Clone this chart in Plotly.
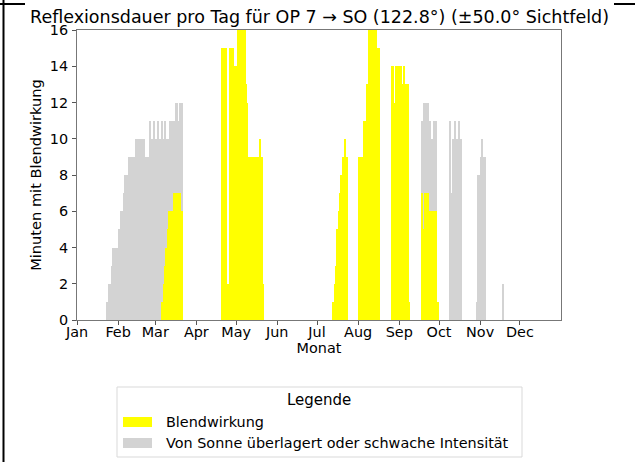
import plotly.graph_objects as go
import pandas as pd

# ---------------- data (day of year index, 0 = 1 Jan) ----------------
gray_days = [22, 23, 24, 25, 26, 27, 28, 29, 30, 31, 32, 33, 34, 35, 36, 37, 38, 39, 40, 41,
             42, 43, 44, 45, 46, 47, 48, 49, 50, 51, 52, 53, 54, 55, 56, 57, 58, 59, 60, 61,
             62, 63, 64, 65, 66, 67, 68, 69, 70, 71, 72, 73, 74, 75, 76, 77, 78, 79,
             260, 261, 262, 263, 264, 265, 266, 267, 268, 269, 270,
             281, 282, 283, 284, 285, 286, 287, 288, 289,
             301, 302, 303, 304, 305, 306, 307,
             321]
gray_vals = [1, 1, 2, 2, 3, 4, 4, 4, 4, 5, 5, 6, 6, 7, 8, 8, 8, 9, 9, 9,
             9, 9, 10, 10, 10, 10, 10, 10, 10, 9, 9, 9, 9, 11, 10, 10, 11, 10, 10, 11,
             10, 10, 11, 10, 11, 10, 10, 10, 11, 11, 11, 11, 12, 12, 11, 12, 12, 12,
             11, 12, 12, 12, 12, 11, 11, 10, 10, 11, 11,
             11, 7, 10, 10, 11, 10, 10, 11, 10,
             1, 8, 8, 9, 10, 9, 9,
             2]

yellow_days = [64, 65, 66, 67, 68, 69, 70, 71, 72, 73, 74, 75, 76, 77, 78, 79,
               109, 110, 111, 112, 113, 114, 115, 116, 117, 118, 119, 120, 121, 122, 123, 124,
               125, 126, 127, 128, 129, 130, 131, 132, 133, 134, 135, 136, 137, 138, 139, 140,
               193, 194, 195, 196, 197, 198, 199, 200, 201, 202, 203,
               212, 214, 215, 216, 217, 218, 219, 220, 221, 222, 223, 224, 225, 226, 227,
               237, 238, 239, 240, 241, 242, 243, 244, 245, 246, 247, 248, 249, 250,
               260, 261, 262, 263, 264, 265, 266, 267, 268, 269, 270, 272]
yellow_vals = [1, 2, 3, 4, 5, 6, 6, 6, 6, 7, 7, 7, 7, 7, 6, 6,
               15, 15, 15, 15, 2, 2, 15, 15, 15, 14, 14, 14, 16, 16, 16, 16,
               16, 16, 13, 12, 9, 9, 9, 9, 9, 9, 9, 9, 9, 10, 9, 2,
               1, 2, 3, 5, 6, 7, 8, 9, 9, 10, 9,
               9, 9, 9, 11, 11, 13, 13, 16, 16, 14, 16, 16, 16, 15, 15,
               14, 14, 12, 14, 14, 14, 14, 14, 13, 14, 13, 13, 13, 1,
               7, 5, 7, 7, 7, 6, 6, 6, 6, 6, 6, 1]

month_ticks = ["Jan", "Feb", "Mar", "Apr", "May", "Jun", "Jul", "Aug", "Sep", "Oct", "Nov", "Dec"]
y_ticks = [0, 2, 4, 6, 8, 10, 12, 14, 16]

legend_labels = ["Blendwirkung", "Von Sonne überlagert oder schwache Intensität"]
title_text = "Reflexionsdauer pro Tag für OP 7 → SO (122.8°) (±50.0° Sichtfeld)"

YELLOW = "#ffff00"
GRAY = "#d3d3d3"
YEAR_START = pd.Timestamp("2023-01-01")


def to_dates(days):
    return [YEAR_START + pd.Timedelta(days=d, hours=12) for d in days]


DAY_MS = 86400000

W, H = 635, 462
L, R, T, B = 77, 561, 30, 320  # plot area in pixels


def px(xp):
    return (xp - L) / (R - L)


def py(yp):
    return (B - yp) / (B - T)


FONT = "DejaVu Sans"

fig = go.Figure()
fig.add_trace(go.Bar(x=to_dates(gray_days), y=gray_vals, width=DAY_MS,
                     marker=dict(color=GRAY, line=dict(width=0)),
                     name=legend_labels[1], showlegend=False, hoverinfo="skip"))
fig.add_trace(go.Bar(x=to_dates(yellow_days), y=yellow_vals, width=DAY_MS,
                     marker=dict(color=YELLOW, line=dict(width=0)),
                     name=legend_labels[0], showlegend=False, hoverinfo="skip"))

tickvals = [YEAR_START + pd.DateOffset(months=i) for i in range(12)]

fig.update_layout(
    width=W, height=H,
    margin=dict(l=L, r=W - R, t=T, b=H - B, autoexpand=False),
    paper_bgcolor="white", plot_bgcolor="white",
    barmode="overlay", bargap=0,
    font=dict(family=FONT, size=14, color="#000000"),
    showlegend=False,
    title=dict(text=title_text, x=px(319.5), xanchor="center", xref="paper",
               y=1 - 17 / H, yanchor="middle", yref="container",
               font=dict(family=FONT, size=17.5, color="#000000")),
    xaxis=dict(
        type="date", automargin=False,
        range=[YEAR_START, YEAR_START + pd.Timedelta(days=365)],
        tickmode="array", tickvals=tickvals, ticktext=month_ticks,
        ticks="outside", ticklen=4, tickcolor="#555555", tickwidth=1,
        ticklabelstandoff=-5,
        showline=True, linecolor="#777777", linewidth=1, mirror=True,
        showgrid=False, zeroline=False,
        tickfont=dict(family=FONT, size=14.4),
        title=dict(text="Monat", font=dict(family=FONT, size=14.4), standoff=0),
    ),
    yaxis=dict(
        automargin=False,
        range=[0, 16], tickvals=y_ticks,
        ticks="outside", ticklen=4, tickcolor="#555555", tickwidth=1,
        ticklabelstandoff=1,
        showline=True, linecolor="#777777", linewidth=1, mirror=True,
        showgrid=False, zeroline=False,
        tickfont=dict(family=FONT, size=14.4),
        title=dict(text="Minuten mit Blendwirkung", font=dict(family=FONT, size=14.6), standoff=4),
    ),
)

shapes = []
# page borders (from the surrounding document)
shapes.append(dict(type="line", xref="paper", yref="paper", x0=px(3.5), x1=px(3.5), y0=py(0), y1=py(H),
                   line=dict(color="black", width=2)))
shapes.append(dict(type="line", xref="paper", yref="paper", x0=px(0), x1=px(25), y0=py(4), y1=py(4),
                   line=dict(color="black", width=2)))
shapes.append(dict(type="line", xref="paper", yref="paper", x0=px(614), x1=px(W), y0=py(4), y1=py(4),
                   line=dict(color="black", width=2)))

# legend box
bx0, bx1, by0, by1 = 117, 522, 387, 457
shapes.append(dict(type="rect", xref="paper", yref="paper", x0=px(bx0), x1=px(bx1), y0=py(by0), y1=py(by1),
                   line=dict(color="#d9d9d9", width=1), fillcolor="white"))
# legend patches
shapes.append(dict(type="rect", xref="paper", yref="paper", x0=px(123), x1=px(152), y0=py(417), y1=py(427),
                   line=dict(width=0), fillcolor=YELLOW))
shapes.append(dict(type="rect", xref="paper", yref="paper", x0=px(123), x1=px(152), y0=py(438), y1=py(448),
                   line=dict(width=0), fillcolor=GRAY))

annotations = [
    dict(text="Legende", xref="paper", yref="paper", x=px(319), y=py(400), xanchor="center", yanchor="middle",
         showarrow=False, font=dict(family=FONT, size=15)),
    dict(text=legend_labels[0], xref="paper", yref="paper", x=px(164), y=py(422), xanchor="left", yanchor="middle",
         showarrow=False, font=dict(family=FONT, size=14.4)),
    dict(text=legend_labels[1], xref="paper", yref="paper", x=px(164), y=py(443), xanchor="left", yanchor="middle",
         showarrow=False, font=dict(family=FONT, size=14.4)),
]

fig.update_layout(shapes=shapes, annotations=annotations)
fig.write_html("out.html", config={"displayModeBar": False},
               post_script="document.body.style.margin='0';document.body.style.overflow='hidden';")
